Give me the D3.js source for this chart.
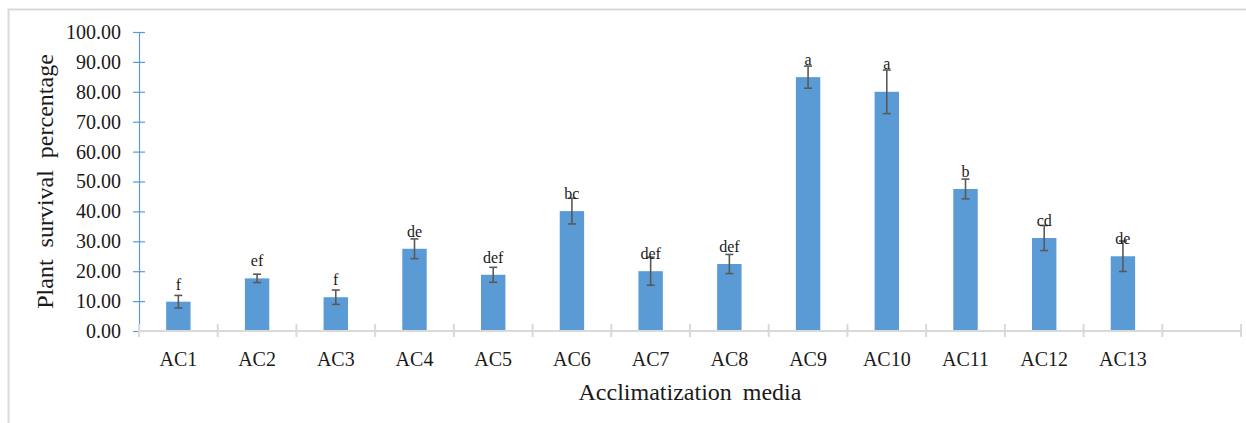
<!DOCTYPE html>
<html>
<head>
<meta charset="utf-8">
<script src="https://cdn.jsdelivr.net/npm/d3@7"></script>
<style>
  html, body { margin: 0; padding: 0; background: #fff; }
  svg { display: block; }
  text { font-family: "Liberation Serif", "Times New Roman", serif; fill: #1a1a1a; }
</style>
</head>
<body>
<svg id="chart" width="1246" height="423"></svg>
<script>
// Acclimatization media and mean plant survival (%) with standard error
const categories = ["AC1", "AC2", "AC3", "AC4", "AC5", "AC6", "AC7", "AC8", "AC9", "AC10", "AC11", "AC12", "AC13"];
const survival   = [9.8, 17.6, 11.3, 27.5, 18.8, 40.1, 20.0, 22.4, 84.9, 80.0, 47.5, 31.1, 25.0];
const stdErr     = [2.1, 1.4, 2.4, 3.3, 2.5, 4.3, 4.7, 3.2, 3.7, 7.3, 3.3, 4.2, 5.1];
const letters    = ["f", "ef", "f", "de", "def", "bc", "def", "def", "a", "a", "b", "cd", "de"];
const yTicks     = [0, 10, 20, 30, 40, 50, 60, 70, 80, 90, 100];

const svg = d3.select("#chart");
const plotLeft = 139, plotRight = 1241, plotTop = 32, plotBottom = 331;

// Chart frame (left and top edges visible)
svg.append("path")
  .attr("d", "M8.5,423 V9.5 H1246")
  .attr("fill", "none").attr("stroke", "#d9d9d9").attr("stroke-width", 2);

// One empty slot after the last medium, as in the worksheet range
const slots = categories.concat([""]);
const x = d3.scaleBand().domain(slots).range([plotLeft, plotRight]).paddingInner(0.69).paddingOuter(0.345);
const xSlot = d3.scaleBand().domain(slots).range([plotLeft, plotRight]);
const y = d3.scaleLinear().domain([0, 100]).range([plotBottom, plotTop]);

// Y axis
const yAxis = svg.append("g").attr("transform", `translate(${plotLeft},0)`)
  .call(d3.axisLeft(y).tickValues(yTicks).tickFormat(d3.format(".2f")).tickSize(0).tickPadding(18));
yAxis.select(".domain").attr("stroke", "#5b9bd5").attr("stroke-width", 1.2);
yAxis.selectAll(".tick text").attr("font-size", 20).attr("fill", "#1a1a1a")
  .attr("font-family", "Liberation Serif, serif");
yAxis.selectAll(".tick").append("line")
  .attr("x1", -6).attr("x2", 6).attr("stroke", "#5b9bd5").attr("stroke-width", 1.2);

// Bars
svg.append("g").selectAll("rect").data(categories).join("rect")
  .attr("x", d => x(d))
  .attr("width", x.bandwidth())
  .attr("y", (d, i) => y(survival[i]))
  .attr("height", (d, i) => y(0) - y(survival[i]))
  .attr("fill", "#5b9bd5");

// X axis with crossing tick marks on slot boundaries
const xg = svg.append("g");
xg.append("line").attr("x1", plotLeft).attr("x2", plotRight).attr("y1", plotBottom).attr("y2", plotBottom)
  .attr("stroke", "#d9d9d9").attr("stroke-width", 2);
const bounds = slots.map(s => xSlot(s)).concat([plotRight]);
xg.selectAll("line.tick").data(bounds).join("line").attr("class", "tick")
  .attr("x1", d => d).attr("x2", d => d)
  .attr("y1", plotBottom - 7).attr("y2", plotBottom + 6)
  .attr("stroke", "#d9d9d9").attr("stroke-width", 2);
xg.selectAll("text").data(categories).join("text")
  .attr("x", d => xSlot(d) + xSlot.bandwidth() / 2)
  .attr("y", 366)
  .attr("text-anchor", "middle").attr("font-size", 20)
  .text(d => d);

// Error bars
const eb = svg.append("g").attr("stroke", "#595959").attr("stroke-width", 1.6);
categories.forEach((c, i) => {
  const cx = x(c) + x.bandwidth() / 2;
  const hi = y(survival[i] + stdErr[i]), lo = y(survival[i] - stdErr[i]);
  eb.append("line").attr("x1", cx).attr("x2", cx).attr("y1", hi).attr("y2", lo);
  eb.append("line").attr("x1", cx - 4).attr("x2", cx + 4).attr("y1", hi).attr("y2", hi);
  eb.append("line").attr("x1", cx - 4).attr("x2", cx + 4).attr("y1", lo).attr("y2", lo);
});

// Significance letters above each bar
const letterNudge = { AC10: -11 };
svg.append("g").selectAll("text").data(categories).join("text")
  .attr("x", d => x(d) + x.bandwidth() / 2)
  .attr("y", (d, i) => y(survival[i]) - 12 + (letterNudge[d] || 0))
  .attr("text-anchor", "middle").attr("font-size", 16)
  .text((d, i) => letters[i]);

// Axis titles
svg.append("text")
  .attr("x", (plotLeft + plotRight) / 2).attr("y", 400)
  .attr("text-anchor", "middle").attr("font-size", 24).attr("word-spacing", 5)
  .text("Acclimatization media");
svg.append("text")
  .attr("transform", `translate(53,${(plotTop + plotBottom) / 2}) rotate(-90)`)
  .attr("text-anchor", "middle").attr("font-size", 24).attr("word-spacing", 6)
  .text("Plant survival percentage");
</script>
</body>
</html>
